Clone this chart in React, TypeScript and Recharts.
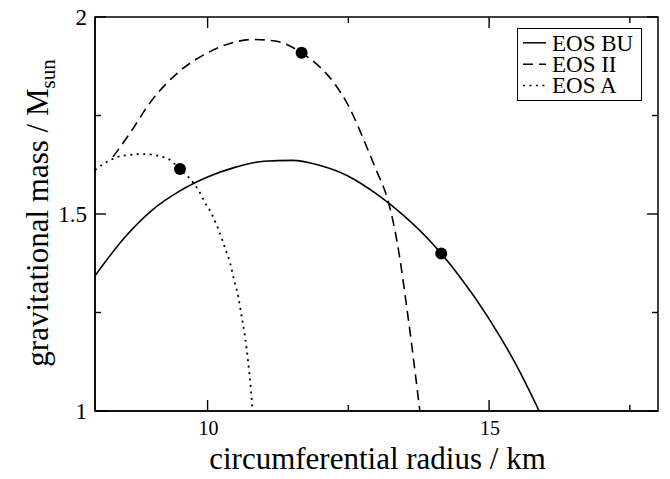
import React from "react";
import { ComposedChart, Line, Scatter, XAxis, YAxis, Legend } from "recharts";

// ---- data ----
const buRadius = [8.0, 8.5, 9.0, 9.5, 10.0, 10.5, 11.0, 11.5, 12.0, 12.5, 13.0, 13.5, 14.0, 14.5, 15.0, 15.5, 15.89];
const buMass = [1.343, 1.436, 1.508, 1.558, 1.594, 1.619, 1.634, 1.636, 1.623, 1.596, 1.551, 1.494, 1.424, 1.337, 1.234, 1.112, 1.0];

const iiRadius = [8.32, 8.62, 9.0, 9.5, 10.0, 10.5, 10.8, 11.2, 11.67, 12.0, 12.25, 12.5, 12.85, 13.0, 13.2, 13.36, 13.56, 13.77];
const iiMass = [1.645, 1.705, 1.787, 1.862, 1.909, 1.937, 1.943, 1.939, 1.909, 1.872, 1.832, 1.775, 1.662, 1.61, 1.536, 1.434, 1.239, 1.0];

const aRadius = [8.0, 8.27, 8.5, 8.85, 9.27, 9.51, 9.69, 9.835, 9.954, 10.073, 10.208, 10.32, 10.4, 10.456, 10.545, 10.606, 10.664, 10.723, 10.77, 10.8];
const aMass = [1.612, 1.637, 1.648, 1.652, 1.642, 1.614, 1.589, 1.561, 1.529, 1.5, 1.455, 1.409, 1.376, 1.341, 1.29, 1.239, 1.189, 1.121, 1.053, 1.0];

const markRadius = [14.15, 11.67, 9.51];
const markMass = [1.4, 1.909, 1.614];

const xDomain = [8, 18];
const yDomain = [1, 2];
const xTicks = [10, 12.5, 15, 17.5];
const xMajor = [10, 15];
const yTicks = [1, 1.25, 1.5, 1.75, 2];
const yMajor = [1, 1.5, 2];

const seriesNames = ["EOS BU", "EOS II", "EOS A"];
const xTitle = "circumferential radius / km";
const yTitleMain = "gravitational mass / M";
const yTitleSub = "sun";

const zip = (rs: number[], ms: number[]) => rs.map((r, i) => ({ r, m: ms[i] }));
const buData = zip(buRadius, buMass);
const iiData = zip(iiRadius, iiMass);
const aData = zip(aRadius, aMass);
const markData = zip(markRadius, markMass);

// ---- layout ----
const W = 670;
const H = 479;
const MARGIN = { top: 17, right: 12, bottom: 0, left: 0 };
const Y_AXIS_W = 95;
const X_AXIS_H = 68;
const PLOT_LEFT = MARGIN.left + Y_AXIS_W;
const PLOT_TOP = MARGIN.top;
const PLOT_RIGHT = W - MARGIN.right;
const PLOT_BOTTOM = H - MARGIN.bottom - X_AXIS_H;

const FONT = "'Liberation Serif', 'Times New Roman', Times, serif";
const DASH = "10 6";
const DOT = "2 4.5";
const TICK_W = 1.4;
const FRAME_W = 1.5;

const BottomTick = (p: any) => {
  const { x, y, payload } = p;
  const major = xMajor.includes(payload.value);
  return major ? (
    <text x={x + 1} y={y + 24} textAnchor="middle" fontSize={20} fontFamily={FONT} fill="#000">
      {String(payload.value)}
    </text>
  ) : (
    <g />
  );
};

const LeftTick = (p: any) => {
  const { x, y, payload } = p;
  const major = yMajor.includes(payload.value);
  return major ? (
    <text x={x - 8} y={y + 8} textAnchor="end" fontSize={23} fontFamily={FONT} fill="#000">
      {String(payload.value)}
    </text>
  ) : (
    <g />
  );
};

// frame with inward ticks on all four sides, as an overlay aligned to the plot area
const FrameOverlay = () => {
  const sx = (v: number) => PLOT_LEFT + ((v - xDomain[0]) / (xDomain[1] - xDomain[0])) * (PLOT_RIGHT - PLOT_LEFT);
  const sy = (v: number) => PLOT_BOTTOM - ((v - yDomain[0]) / (yDomain[1] - yDomain[0])) * (PLOT_BOTTOM - PLOT_TOP);
  const L = sx(xDomain[0]);
  const R = sx(xDomain[1]);
  const B = sy(yDomain[0]);
  const T = sy(yDomain[1]);
  return (
    <svg
      width={W}
      height={H}
      style={{ position: "absolute", left: 0, top: 0, pointerEvents: "none", overflow: "visible" }}
    >
      <rect x={L} y={T} width={R - L} height={B - T} fill="none" stroke="#000" strokeWidth={FRAME_W} />
      {xTicks.map((t) => {
        const len = xMajor.includes(t) ? 11 : 6;
        const x = sx(t);
        return (
          <g key={`x${t}`}>
            <line x1={x} x2={x} y1={B} y2={B - len} stroke="#000" strokeWidth={TICK_W} />
            <line x1={x} x2={x} y1={T} y2={T + len} stroke="#000" strokeWidth={TICK_W} />
          </g>
        );
      })}
      {yTicks.map((t) => {
        const len = yMajor.includes(t) ? 11 : 6;
        const y = sy(t);
        return (
          <g key={`y${t}`}>
            <line x1={L} x2={L + len} y1={y} y2={y} stroke="#000" strokeWidth={TICK_W} />
            <line x1={R} x2={R - len} y1={y} y2={y} stroke="#000" strokeWidth={TICK_W} />
          </g>
        );
      })}
    </svg>
  );
};

const XTitle = (p: any) => {
  const vb = p.viewBox || { x: PLOT_LEFT, y: PLOT_BOTTOM, width: PLOT_RIGHT - PLOT_LEFT, height: X_AXIS_H };
  return (
    <text x={vb.x + vb.width / 2 + 1} y={vb.y + 58} textAnchor="middle" fontSize={31} fontFamily={FONT} fill="#000">
      {xTitle}
    </text>
  );
};

const YTitle = (p: any) => {
  const vb = p.viewBox || { x: 0, y: PLOT_TOP, width: Y_AXIS_W, height: PLOT_BOTTOM - PLOT_TOP };
  const cx = 48;
  const cy = vb.y + vb.height / 2 - 1;
  return (
    <text x={cx} y={cy} transform={`rotate(-90 ${cx} ${cy})`} textAnchor="middle" fontSize={31} fontFamily={FONT} fill="#000">
      {yTitleMain}
      <tspan dy={7} fontSize={21}>{yTitleSub}</tspan>
    </text>
  );
};

const LegendBox = () => {
  const rows = [
    { name: seriesNames[0], dash: undefined as string | undefined },
    { name: seriesNames[1], dash: DASH },
    { name: seriesNames[2], dash: DOT },
  ];
  return (
    <svg width={125} height={73} style={{ display: "block" }}>
      <rect x={0.5} y={0.5} width={124} height={72} fill="#fff" stroke="#000" strokeWidth={1} />
      {rows.map((r, i) => (
        <g key={r.name}>
          <line x1={6} x2={29} y1={14.8 + i * 21.4} y2={14.8 + i * 21.4} stroke="#000" strokeWidth={1.5} strokeDasharray={r.dash} />
          <text x={35} y={22.6 + i * 21.4} fontSize={23} fontFamily={FONT} fill="#000">
            {r.name}
          </text>
        </g>
      ))}
    </svg>
  );
};

export default function App() {
  return (
    <div style={{ position: "absolute", left: 0, top: 0, background: "#fff", width: W, height: H }}>
      <ComposedChart width={W} height={H} margin={MARGIN}>
        <XAxis
          dataKey="r"
          type="number"
          domain={xDomain}
          ticks={xTicks}
          interval={0}
          allowDataOverflow
          height={X_AXIS_H}
          tickSize={0}
          tickMargin={0}
          tickLine={false}
          tick={BottomTick}
          axisLine={{ stroke: "#000", strokeWidth: FRAME_W }}
          label={{ content: XTitle }}
        />
        <YAxis
          type="number"
          domain={yDomain}
          ticks={yTicks}
          interval={0}
          allowDataOverflow
          width={Y_AXIS_W}
          tickSize={0}
          tickMargin={0}
          tickLine={false}
          tick={LeftTick}
          axisLine={{ stroke: "#000", strokeWidth: FRAME_W }}
          label={{ content: YTitle }}
        />
        <Line data={buData} dataKey="m" name={seriesNames[0]} type="monotone" stroke="#000" strokeWidth={1.6} dot={false} isAnimationActive={false} />
        <Line data={iiData} dataKey="m" name={seriesNames[1]} type="monotone" stroke="#000" strokeWidth={1.6} strokeDasharray={DASH} dot={false} isAnimationActive={false} />
        <Line data={aData} dataKey="m" name={seriesNames[2]} type="monotone" stroke="#000" strokeWidth={1.8} strokeDasharray={DOT} dot={false} isAnimationActive={false} />
        <Scatter
          data={markData}
          dataKey="m"
          isAnimationActive={false}
          shape={(p: any) => <circle cx={p.cx} cy={p.cy} r={6} fill="#000" />}
        />
        <Legend
          layout="vertical"
          align="center"
          verticalAlign="middle"
          content={LegendBox}
          wrapperStyle={{ position: "absolute", left: 517, top: 28, width: "auto", height: "auto" }}
        />
      </ComposedChart>
      <FrameOverlay />
    </div>
  );
}
